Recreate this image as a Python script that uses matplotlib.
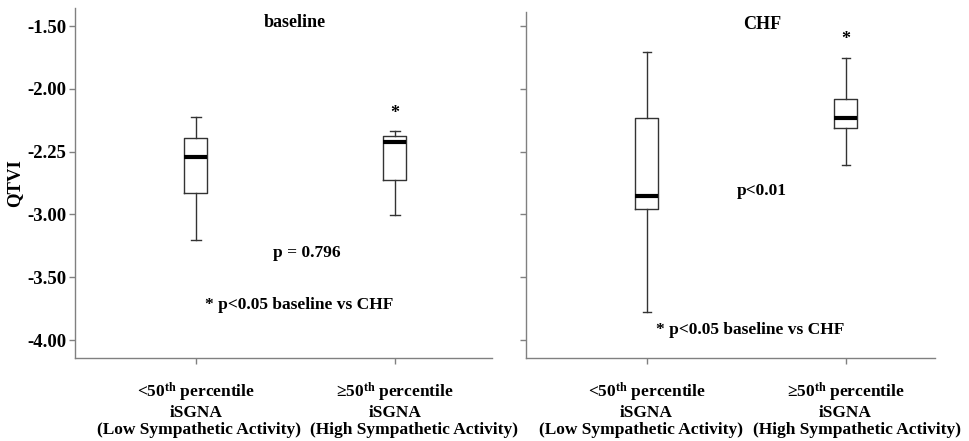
import matplotlib.pyplot as plt
from matplotlib.transforms import blended_transform_factory

plt.rcParams['font.family'] = ['Liberation Serif', 'DejaVu Serif']
plt.rcParams['font.weight'] = 'bold'
plt.rcParams['mathtext.fontset'] = 'custom'
plt.rcParams['mathtext.rm'] = 'Liberation Serif:bold'
plt.rcParams['mathtext.bf'] = 'Liberation Serif:bold'
plt.rcParams['mathtext.it'] = 'Liberation Serif:bold'

# data
categories = [r'<50$^{\rm th}$ percentile' + '\niSGNA',
              r'≥50$^{\rm th}$ percentile' + '\niSGNA']
activity = ['(Low Sympathetic Activity)', '(High Sympathetic Activity)']
yticks = [-1.5, -2.0, -2.5, -3.0, -3.5, -4.0]
ytick_labels = ['-1.50', '-2.00', '-2.25', '-3.00', '-3.50', '-4.00']

base_whislo = [-3.20, -3.007]
base_q1 = [-2.83, -2.728]
base_med = [-2.545, -2.42]
base_q3 = [-2.39, -2.377]
base_whishi = [-2.223, -2.337]

chf_whislo = [-3.78, -2.603]
chf_q1 = [-2.957, -2.313]
chf_med = [-2.856, -2.234]
chf_q3 = [-2.234, -2.085]
chf_whishi = [-1.71, -1.758]


def stats(lo, q1, med, q3, hi):
    return [dict(whislo=lo[i], q1=q1[i], med=med[i], q3=q3[i], whishi=hi[i], fliers=[])
            for i in range(len(med))]


fig = plt.figure(figsize=(9.69, 4.41), dpi=100)
ax1 = fig.add_axes([0.0774, 0.188, 0.430, 0.794])
ax2 = fig.add_axes([0.543, 0.188, 0.422, 0.785])

box_kw = dict(positions=[1, 2], widths=0.115, showfliers=False,
              boxprops=dict(color='#333333', lw=1.0),
              whiskerprops=dict(color='#333333', lw=1.0),
              capprops=dict(color='#333333', lw=1.0),
              medianprops=dict(color='black', lw=3.0))

ax1.bxp(stats(base_whislo, base_q1, base_med, base_q3, base_whishi), capwidths=0.05, **box_kw)
ax2.bxp(stats(chf_whislo, chf_q1, chf_med, chf_q3, chf_whishi), capwidths=0.04, **box_kw)

for ax, top in ((ax1, -1.356), (ax2, -1.388)):
    ax.set_ylim(-4.143, top)
    ax.set_xlim(0.392, 2.488)
    ax.set_yticks(yticks)
    ax.set_xticks([1, 2])
    ax.set_xticklabels(categories, fontsize=12.5, fontweight='bold', linespacing=1.1)
    for s in ('top', 'right'):
        ax.spines[s].set_visible(False)
    for s in ('left', 'bottom'):
        ax.spines[s].set_color('#808080')
        ax.spines[s].set_linewidth(1.0)
    ax.tick_params(color='#808080', length=4, width=1.0, pad=2)
    ax.tick_params(axis='x', pad=12)

ax2.set_xlim(0.395, 2.45)
ax1.set_yticklabels(ytick_labels, fontsize=13.5, fontweight='bold')
ax2.set_yticklabels([])
ax1.set_ylabel('QTVI', fontsize=13.5, fontweight='bold', labelpad=3)

# third label line, slightly off-centre as in the original
for ax, shifts in ((ax1, [3, 19]), (ax2, [-6, 11])):
    tr = blended_transform_factory(ax.transData, fig.transFigure)
    for i, txt in enumerate(activity):
        ax.annotate(txt, xy=(i + 1, 0.025), xycoords=tr, xytext=(shifts[i] * 0.72, 0),
                    textcoords='offset points', ha='center', va='center',
                    fontsize=12.5, annotation_clip=False)

ax1.text(1.5, -1.47, 'baseline', ha='center', va='center', fontsize=13)
ax1.text(2.0, -2.20, '*', ha='center', va='center', fontsize=13)
ax1.text(1.56, -3.31, 'p = 0.796', ha='center', va='center', fontsize=12.5)
ax1.text(1.52, -3.717, '* p<0.05 baseline vs CHF', ha='center', va='center', fontsize=12.5)

ax2.text(1.58, -1.49, 'CHF', ha='center', va='center', fontsize=13)
ax2.text(2.0, -1.61, '*', ha='center', va='center', fontsize=13)
ax2.text(1.58, -2.81, 'p<0.01', ha='center', va='center', fontsize=12.5)
ax2.text(1.52, -3.92, '* p<0.05 baseline vs CHF', ha='center', va='center', fontsize=12.5)

fig.savefig('out.png', dpi=100)
